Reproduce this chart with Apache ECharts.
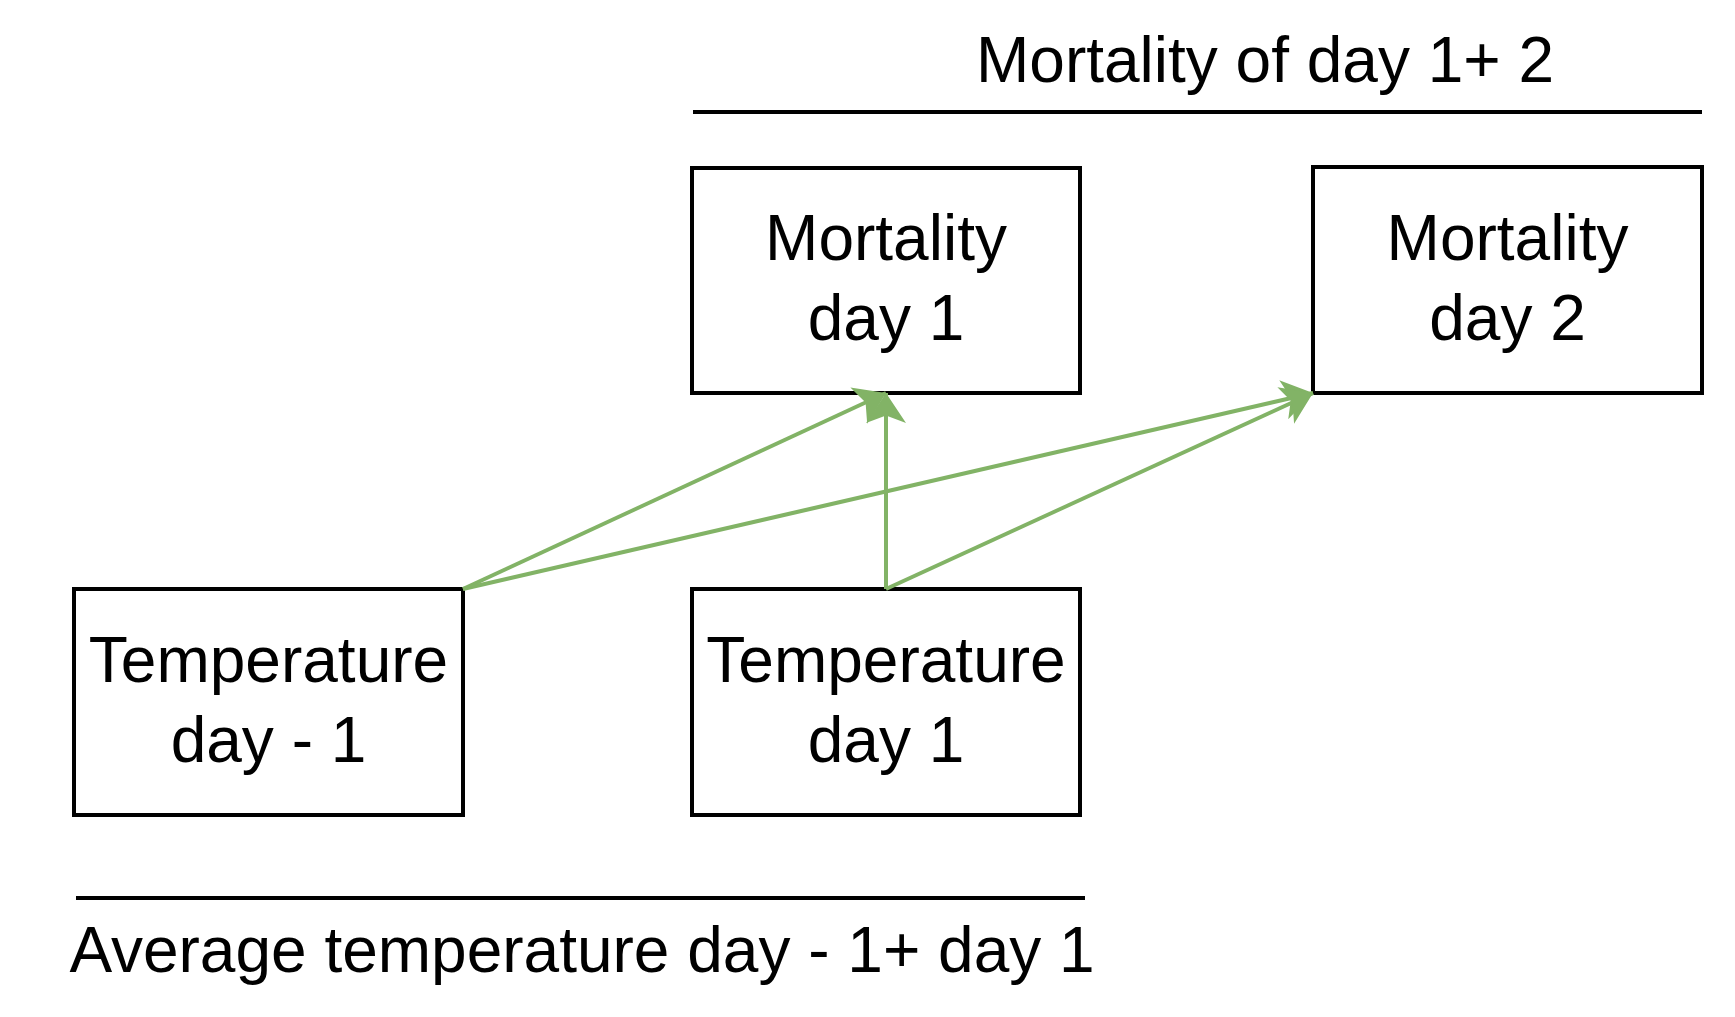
<!DOCTYPE html>
<html>
<head>
<meta charset="utf-8">
<script src="https://cdn.jsdelivr.net/npm/echarts@6/dist/echarts.min.js"></script>
<style>
  html, body { margin: 0; padding: 0; background: #fff; }
  #chart { width: 1735px; height: 1017px; }
</style>
</head>
<body>
<div id="chart"></div>
<script>
  // boxes: [x0, y0, x1, y1]
  var boxNames = ['Mortality\nday 1', 'Mortality\nday 2', 'Temperature\nday - 1', 'Temperature\nday 1'];
  var boxRects = [[692, 168, 1080, 393], [1313, 167, 1702, 393], [74, 589, 463, 815], [692, 589, 1080, 815]];
  // arrows: from -> to
  var arrowFrom = [[463, 589], [463, 589], [886, 589], [886, 589]];
  var arrowTo = [[886, 393], [1313, 393], [886, 393], [1313, 393]];
  // bracket lines with captions
  var spanNames = ['Mortality of day 1+ 2', 'Average temperature day - 1+ day 1'];
  var spanLines = [[693, 1702, 112], [76, 1085, 898]];
  var spanText = [[1265, 64], [582, 954]];

  var chart = echarts.init(document.getElementById('chart'));
  var font = '"Liberation Sans", Arial, sans-serif';

  var boxData = boxRects.map(function (r, i) { return r.concat([boxNames[i]]); });
  var arrowData = arrowFrom.map(function (f, i) { return { coords: [f, arrowTo[i]] }; });
  var spanData = spanLines.map(function (l, i) { return l.concat(spanText[i], [spanNames[i]]); });

  chart.setOption({
    animation: false,
    grid: { left: 0, right: 0, top: 0, bottom: 0 },
    xAxis: { type: 'value', min: 0, max: 1735, show: false },
    yAxis: { type: 'value', min: 0, max: 1017, inverse: true, show: false },
    series: [
      {
        type: 'custom',
        data: boxData,
        renderItem: function (params, api) {
          var p0 = api.coord([api.value(0), api.value(1)]);
          var p1 = api.coord([api.value(2), api.value(3)]);
          return {
            type: 'group',
            children: [
              { type: 'rect', shape: { x: p0[0], y: p0[1], width: p1[0] - p0[0], height: p1[1] - p0[1] },
                style: { fill: '#fff', stroke: '#000', lineWidth: 4 } },
              { type: 'text', style: { x: (p0[0] + p1[0]) / 2, y: (p0[1] + p1[1]) / 2 + 2,
                text: boxNames[params.dataIndex], align: 'center', verticalAlign: 'middle',
                font: '64px ' + font, lineHeight: 80, fill: '#000' } }
            ]
          };
        }
      },
      {
        type: 'lines',
        coordinateSystem: 'cartesian2d',
        symbol: ['none', 'arrow'],
        symbolSize: 30,
        lineStyle: { color: '#82b366', width: 4, opacity: 1 },
        data: arrowData,
        z: 5
      },
      {
        type: 'custom',
        data: spanData,
        renderItem: function (params, api) {
          var a = api.coord([api.value(0), api.value(2)]);
          var b = api.coord([api.value(1), api.value(2)]);
          var t = api.coord([api.value(3), api.value(4)]);
          return {
            type: 'group',
            children: [
              { type: 'line', shape: { x1: a[0], y1: a[1], x2: b[0], y2: b[1] },
                style: { stroke: '#000', lineWidth: 4 } },
              { type: 'text', style: { x: t[0], y: t[1], text: spanNames[params.dataIndex],
                align: 'center', verticalAlign: 'middle', font: '64px ' + font, fill: '#000' } }
            ]
          };
        }
      }
    ]
  });
</script>
</body>
</html>
